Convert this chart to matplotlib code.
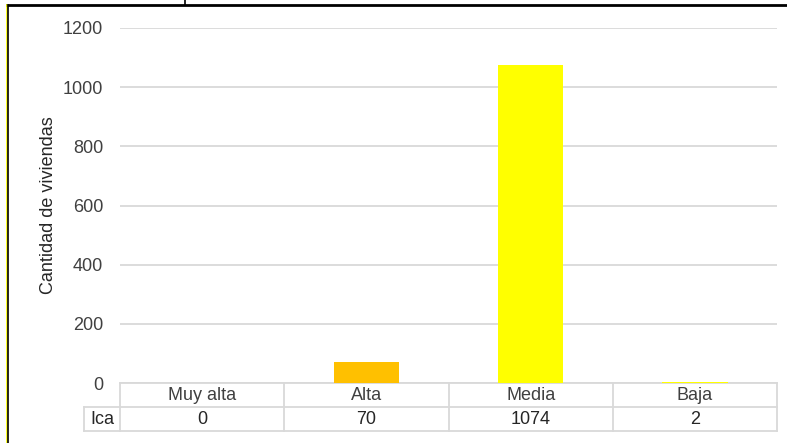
import matplotlib.pyplot as plt
from matplotlib.lines import Line2D
from matplotlib.transforms import blended_transform_factory

# === Data ===
categories = ['Muy alta', 'Alta', 'Media', 'Baja']
ica_values = [0, 70, 1074, 2]
bar_colors = ['#FFC000', '#FFC000', '#FFFF00', '#FFFF00']
row_label = 'Ica'
y_ticks = [0, 200, 400, 600, 800, 1000, 1200]

plt.rcParams['font.family'] = ['Liberation Sans', 'DejaVu Sans']
FS = 13

W, H = 787, 443
fig = plt.figure(figsize=(W / 100, H / 100), dpi=100)

# plot area in pixels
left, right, top, bottom = 120, 777, 28, 383
ax = fig.add_axes([left / W, 1 - bottom / H, (right - left) / W, (bottom - top) / H])

x = list(range(len(categories)))
ax.bar(x, ica_values, width=0.4, color=bar_colors, zorder=3)
ax.set_xlim(-0.5, len(categories) - 0.5)
ax.set_ylim(0, 1200)
ax.set_yticks(y_ticks)
ax.set_yticklabels([str(t) for t in y_ticks], fontsize=FS, color='#404040')
ax.tick_params(axis='y', length=0, pad=12)
ax.set_xticks([])
ax.yaxis.grid(True, color='#d9d9d9', linewidth=1.3)
ax.set_axisbelow(True)
for s in ax.spines.values():
    s.set_visible(False)

ax.set_ylabel('Cantidad de viviendas', fontsize=FS, color='#262626', labelpad=0)
ax.yaxis.set_label_coords(-63 / (right - left), 0.5)

# === Data table under the bars ===
tr = blended_transform_factory(ax.transData, ax.transAxes)
ph = bottom - top
row_h = 24 / ph
y0 = 0
y1 = -row_h
y2 = -2 * row_h
lab_x = -0.5 - 36 / (right - left) * len(categories)
grid_kw = dict(color='#d9d9d9', linewidth=1.3, transform=tr, clip_on=False)

# horizontal rules
ax.add_line(Line2D([-0.5, 3.5], [y0, y0], **grid_kw))
ax.add_line(Line2D([lab_x, 3.5], [y1, y1], **grid_kw))
ax.add_line(Line2D([lab_x, 3.5], [y2, y2], **grid_kw))
# vertical rules
ax.add_line(Line2D([lab_x, lab_x], [y1, y2], **grid_kw))
for xv in [-0.5, 0.5, 1.5, 2.5, 3.5]:
    ax.add_line(Line2D([xv, xv], [y0, y2], **grid_kw))

for i, (c, v) in enumerate(zip(categories, ica_values)):
    ax.text(i, (y0 + y1) / 2, c, transform=tr, ha='center', va='center',
            fontsize=FS, color='#404040')
    ax.text(i, (y1 + y2) / 2, str(v), transform=tr, ha='center', va='center',
            fontsize=FS, color='#262626')
ax.text((lab_x - 0.5) / 2, (y1 + y2) / 2, row_label, transform=tr, ha='center',
        va='center', fontsize=FS, color='#262626')

# frame edges around the chart
fig.add_artist(Line2D([7 / W, 1], [1 - 5 / H, 1 - 5 / H], color='black',
                      linewidth=2, transform=fig.transFigure))
fig.add_artist(Line2D([6.5 / W, 6.5 / W], [0, 1 - 5 / H], color='#FFFF00',
                      linewidth=1.2, transform=fig.transFigure))
fig.add_artist(Line2D([8 / W, 8 / W], [0, 1 - 5 / H], color='black',
                      linewidth=1.2, transform=fig.transFigure))
fig.add_artist(Line2D([185 / W, 185 / W], [1 - 5 / H, 1], color='black',
                      linewidth=1.2, transform=fig.transFigure))

fig.savefig('out.png', dpi=100)
